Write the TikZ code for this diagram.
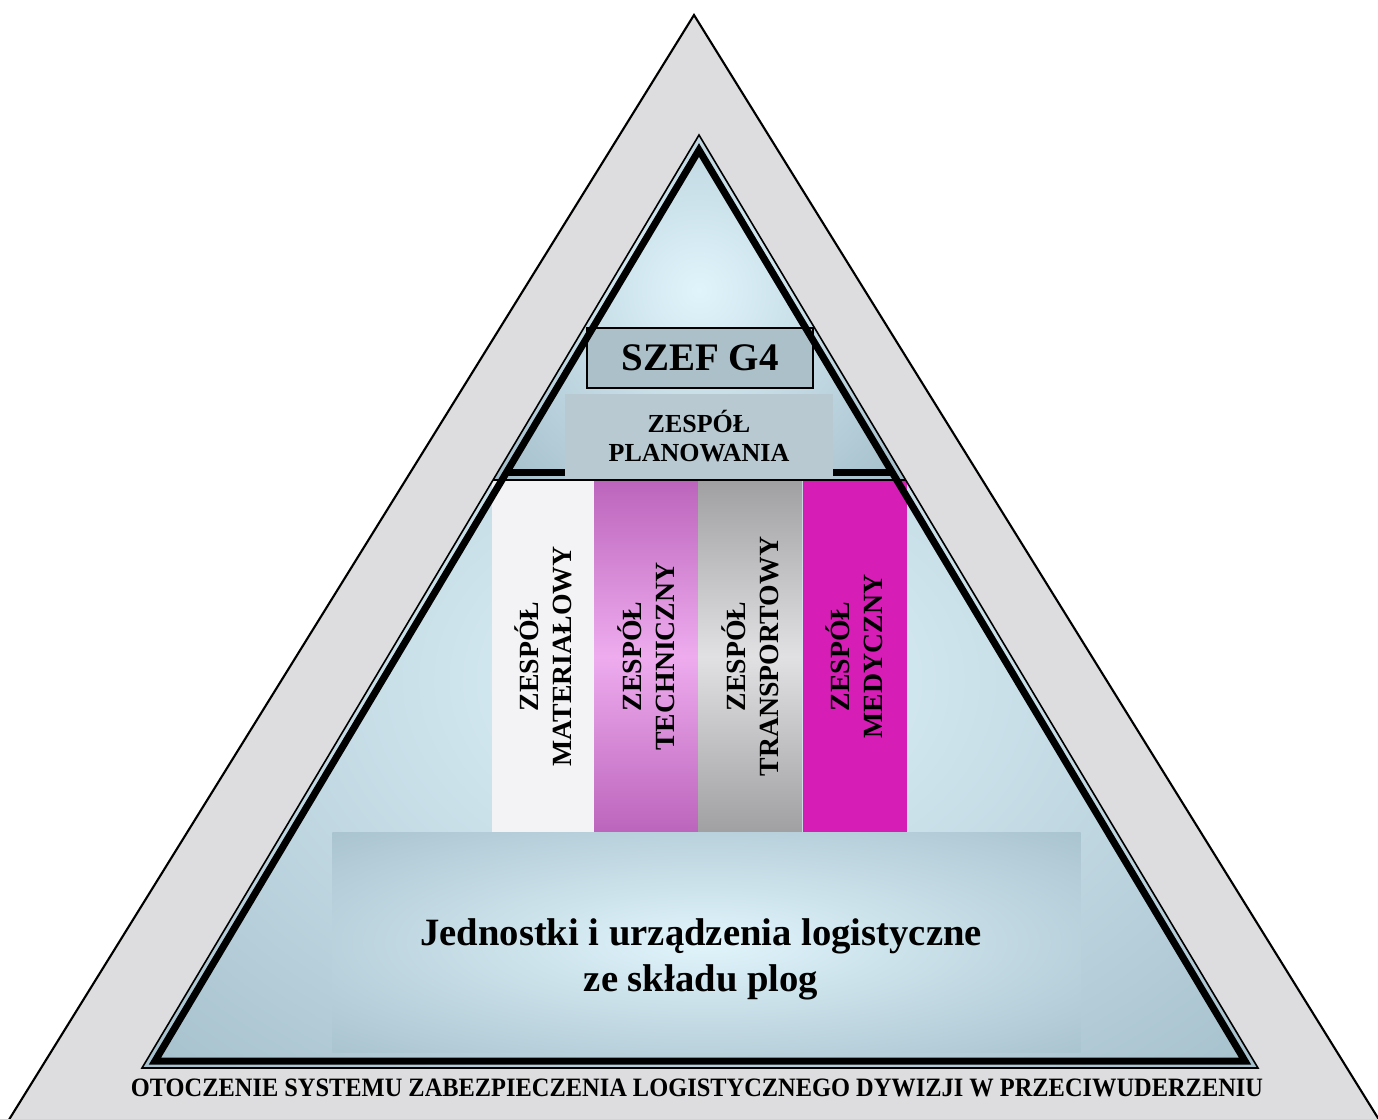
\documentclass[tikz,border=0pt]{standalone}
\usepackage{fontspec}
\setmainfont{Liberation Serif}
\newfontfamily\narrowserif[FakeStretch=0.92]{Liberation Serif}
\usetikzlibrary{positioning}

\definecolor{shellgray}{RGB}{221,221,223}
\definecolor{steelblue}{RGB}{150,178,192}
\definecolor{iceblue}{RGB}{224,244,251}
\definecolor{boxblue}{RGB}{172,192,202}
\definecolor{barwhite}{RGB}{243,243,245}
\definecolor{pinkdark}{RGB}{188,100,188}
\definecolor{pinklight}{RGB}{238,172,238}
\definecolor{graydark}{RGB}{160,160,162}
\definecolor{graylight}{RGB}{225,225,227}
\definecolor{barmagenta}{RGB}{214,30,182}

\begin{document}
\begin{tikzpicture}[x=0.1mm, y=-0.1mm,
    box/.style={rectangle, draw=black, line width=0.8pt, fill=boxblue, text centered, inner sep=0pt},
    bar/.style={rectangle, rotate=90, minimum width=35.3mm, minimum height=10.4mm, inner sep=0pt, align=center, font=\fontsize{7.9}{9.5}\selectfont\bfseries},
    rim/.style={line width=2pt, line join=miter},
    fineline/.style={line width=0.45pt},
]

\useasboundingbox (0,0) rectangle (1378,1118);
\fill[white] (0,0) rectangle (1378,1118);

% Outer triangle
\coordinate (outer_top) at (694,15);
\coordinate (outer_left) at (-16,1160);
\coordinate (outer_right) at (1404,1160);
\filldraw[fill=shellgray, line width=0.6pt] (outer_top) -- (outer_left) -- (outer_right) -- cycle;

% Inner triangle
\coordinate (tri_top) at (699,135);
\coordinate (tri_left) at (142,1068);
\coordinate (tri_right) at (1258,1068);
\coordinate (rim_top) at (699,150);
\coordinate (rim_left) at (155,1061);
\coordinate (rim_right) at (1245,1061);

% upper part
\begin{scope}
\clip (tri_top) -- (493,480) -- (905,480) -- cycle;
\fill[steelblue] (0,0) rectangle (1378,1118);
\shade[inner color=iceblue, outer color=steelblue] (699,290) circle (34mm);
\end{scope}
% lower part
\begin{scope}
\clip (493,480) -- (tri_left) -- (tri_right) -- (905,480) -- cycle;
\fill[steelblue] (0,0) rectangle (1378,1118);
\shade[inner color=iceblue, outer color=steelblue] (699,680) ellipse (100mm and 70mm);
\end{scope}

% Boxes
\node[box, minimum width=22.6mm, minimum height=6mm, font=\fontsize{11.1}{13}\selectfont\bfseries] (szef) at (700,358) {SZEF G4};
\node[rectangle, fill=boxblue!85!white, minimum width=26.8mm, minimum height=8.5mm, inner sep=0pt, align=center, font=\fontsize{7.4}{8.5}\selectfont\bfseries] (planowanie) at (699,436) {ZESPÓŁ\\PLANOWANIA};

% Bars
\node[bar, fill=barwhite] (materialowy) at (543.5,656.5) {ZESPÓŁ\\MATERIAŁOWY};
\node[bar, top color=pinkdark, bottom color=pinkdark, middle color=pinklight] (techniczny) at (646.5,656.5) {ZESPÓŁ\\TECHNICZNY};
\node[bar, top color=graydark, bottom color=graydark, middle color=graylight] (transportowy) at (750,656.5) {ZESPÓŁ\\TRANSPORTOWY};
\node[bar, fill=barmagenta] (medyczny) at (854.5,656.5) {ZESPÓŁ\\MEDYCZNY};

% Bottom box
\node[rectangle, fill=steelblue, minimum width=74.7mm, minimum height=21.9mm] (jednostki) at (706.5,942.5) {};
\begin{scope}
\clip (jednostki.south west) rectangle (jednostki.north east);
\shade[inner color=iceblue, outer color=steelblue] (jednostki.center) ellipse (72mm and 21mm);
\end{scope}
\node[align=center, font=\fontsize{11}{13.1}\selectfont\bfseries] (jednostki_text) at (701,959) {Jednostki i urządzenia logistyczne\\ze składu plog};

% Rims
\draw[fineline] (tri_top) -- (tri_left) -- (tri_right) -- cycle;
\draw[rim] (rim_top) -- (rim_left) -- (rim_right) -- cycle;
\draw[rim] (506,472) -- (565,472);
\draw[rim] (833,472) -- (892,472);
\draw[fineline] (493,480) -- (905,480);

% Bottom label
\node[font=\narrowserif\fontsize{7.55}{8}\selectfont\bfseries] (otoczenie) at (697,1088) {OTOCZENIE SYSTEMU ZABEZPIECZENIA LOGISTYCZNEGO DYWIZJI W PRZECIWUDERZENIU};

\end{tikzpicture}
\end{document}
